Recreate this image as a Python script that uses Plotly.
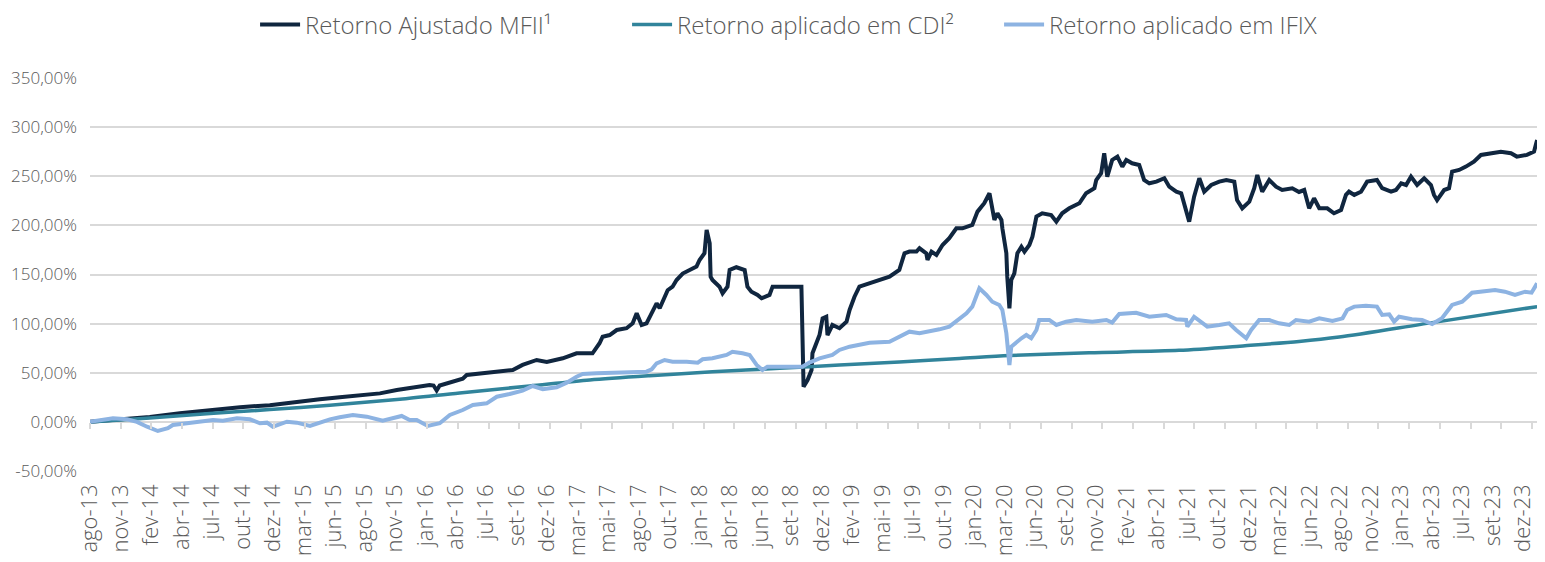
import plotly.graph_objects as go

# x positions are expressed in "label periods": 0 = ago-13, 47 = dez-23
tick_labels = ["ago-13", "nov-13", "fev-14", "abr-14", "jul-14", "out-14", "dez-14", "mar-15",
               "jun-15", "ago-15", "nov-15", "jan-16", "abr-16", "jul-16", "set-16", "dez-16",
               "mar-17", "mai-17", "ago-17", "out-17", "jan-18", "abr-18", "jun-18", "set-18",
               "dez-18", "fev-19", "mai-19", "jul-19", "out-19", "jan-20", "mar-20", "jun-20",
               "set-20", "nov-20", "fev-21", "abr-21", "jul-21", "out-21", "dez-21", "mar-22",
               "jun-22", "ago-22", "nov-22", "jan-23", "abr-23", "jul-23", "set-23", "dez-23"]

mfii_t = [0.00, 0.98, 1.95, 2.93, 3.91, 4.89, 5.86, 6.84, 7.49, 8.14, 9.45, 10.00, 11.07, 11.20, 11.30,
          11.40, 12.15, 12.28, 13.26, 13.78, 14.10, 14.56, 14.89, 15.41, 15.86, 16.38, 16.61, 16.71,
          16.94, 17.17, 17.49, 17.69, 17.82, 17.98, 18.14, 18.47, 18.57, 18.83, 18.99, 19.12, 19.32,
          19.54, 19.77, 19.87, 20.03, 20.10, 20.20, 20.23, 20.29, 20.52, 20.62, 20.78, 20.85, 21.07,
          21.34, 21.43, 21.56, 21.76, 21.89, 22.15, 22.25, 23.19, 23.22, 23.24, 23.26, 23.39, 23.52,
          23.55, 23.68, 23.78, 23.88, 24.00, 24.04, 24.20, 24.43, 24.66, 24.76, 24.92, 25.08, 25.41,
          25.73, 26.06, 26.38, 26.55, 26.71, 26.94, 27.04, 27.26, 27.30, 27.43, 27.59, 27.79, 28.01,
          28.24, 28.44, 28.76, 28.93, 29.15, 29.32, 29.38, 29.48, 29.58, 29.71, 29.74, 29.87, 29.90,
          29.97, 30.03, 30.13, 30.23, 30.36, 30.46, 30.62, 30.72, 30.85, 31.04, 31.33, 31.50, 31.69,
          31.92, 32.25, 32.47, 32.74, 32.80, 32.96, 33.06, 33.16, 33.32, 33.49, 33.65, 33.78, 33.97,
          34.20, 34.36, 34.53, 34.76, 35.02, 35.18, 35.41, 35.57, 35.73, 35.83, 35.99, 36.16, 36.32,
          36.55, 36.81, 37.04, 37.30, 37.39, 37.56, 37.79, 37.95, 38.05, 38.21, 38.44, 38.66, 38.86,
          39.19, 39.41, 39.58, 39.74, 39.90, 40.07, 40.33, 40.55, 40.78, 40.94, 41.04, 41.21, 41.43,
          41.63, 41.95, 42.12, 42.41, 42.57, 42.74, 42.90, 43.06, 43.26, 43.49, 43.71, 43.81, 43.91,
          44.14, 44.30, 44.40, 44.63, 44.85, 45.11, 45.34, 45.67, 45.99, 46.32, 46.51, 46.84, 47.07,
          47.17]
mfii_v = [0.0, 2.0, 5.0, 8.7, 12.0, 15.0, 17.0, 21.0, 23.0, 25.0, 29.0, 32.5, 37.5, 37.0, 32.0,
          37.0, 44.0, 47.7, 51.0, 52.8, 58.0, 63.0, 61.0, 64.7, 69.8, 69.8, 80.0, 86.7,
          88.4, 93.5, 95.3, 100.3, 110.5, 98.6, 100.3, 120.7, 115.6, 134.0, 137.6, 144.4, 151.0,
          154.6, 158.0, 164.8, 171.6, 195.3, 181.8, 147.8, 144.4, 137.6, 130.9, 137.6, 154.6, 157.4,
          154.6, 137.6, 132.5, 129.2, 125.8, 129.2, 137.6, 137.6, 103.7, 56.0, 35.8, 42.6, 52.8,
          69.8, 80.0, 88.4, 105.4, 107.0, 88.4, 98.6, 95.3, 102.0, 113.9, 127.4, 137.6, 141.0,
          144.4, 147.8, 154.6, 171.6, 173.3, 173.3, 176.7, 171.6, 164.8, 173.3, 169.9, 180.0, 186.9,
          197.0, 197.0, 200.4, 214.0, 222.5, 232.7, 222.5, 205.5, 212.3, 205.5, 197.0, 171.6, 147.8,
          115.6, 144.4, 151.2, 171.6, 178.3, 173.3, 180.0, 188.5, 208.9, 212.3, 210.6, 203.8, 212.3,
          217.4, 222.5, 232.7, 237.8, 246.2, 253.0, 273.4, 249.6, 266.6, 270.0, 259.8, 266.6, 263.2,
          261.5, 246.2, 242.8, 244.5, 248.0, 239.4, 234.3, 232.7, 215.7, 203.8, 229.2, 248.0, 234.3,
          241.1, 244.5, 246.2, 244.5, 225.8, 217.4, 224.1, 237.8, 251.3, 234.3, 246.2, 239.4, 236.0,
          237.8, 234.0, 236.0, 217.4, 227.6, 217.4, 217.4, 212.3, 215.7, 231.0, 234.3, 231.0, 234.3,
          244.5, 246.2, 237.8, 234.3, 236.0, 242.8, 241.1, 249.6, 241.1, 248.0, 241.1, 231.0, 225.8,
          236.0, 237.8, 254.7, 256.4, 259.8, 264.9, 271.7, 273.4, 275.0, 273.4, 270.0, 271.7, 275.0,
          286.9]

cdi_t = [0.00, 1.95, 3.91, 5.86, 7.82, 10.10, 12.05, 14.33, 16.29, 18.24, 20.29, 22.48, 24.43,
         26.38, 28.34, 29.97, 32.57, 35.50, 37.65, 39.41, 40.72, 43.75, 47.17]
cdi_v = [0.0, 4.0, 8.5, 12.5, 17.0, 23.0, 29.5, 36.5, 42.6, 47.0, 51.0, 54.5, 58.0,
         61.0, 64.5, 67.5, 70.4, 72.8, 77.5, 81.8, 86.3, 101.0, 117.3]

ifix_t = [0.00, 0.33, 0.75, 1.21, 1.53, 1.86, 2.21, 2.54, 2.70, 3.16, 4.01, 4.33, 4.79, 5.21, 5.54,
          5.77, 5.96, 6.42, 6.74, 7.17, 7.49, 7.82, 8.14, 8.57, 9.02, 9.54, 10.16, 10.42, 10.65,
          11.01, 11.40, 11.73, 12.15, 12.48, 12.93, 13.26, 13.68, 14.10, 14.43, 14.76, 15.21, 15.54,
          15.86, 16.06, 16.51, 16.94, 17.59, 18.14, 18.31, 18.47, 18.73, 18.99, 19.45, 19.81, 19.97,
          20.29, 20.75, 20.94, 21.27, 21.50, 21.73, 21.92, 22.08, 22.48, 23.03, 23.22, 23.45, 23.78,
          24.20, 24.43, 24.76, 25.41, 26.06, 26.38, 26.71, 27.04, 27.36, 27.69, 28.01, 28.24, 28.57,
          28.76, 28.99, 29.22, 29.41, 29.64, 29.74, 29.87, 29.97, 30.03, 30.20, 30.36, 30.52, 30.68,
          30.85, 30.94, 31.27, 31.50, 31.82, 32.15, 32.67, 33.13, 33.32, 33.55, 34.10, 34.53, 35.08,
          35.41, 35.73, 35.77, 35.99, 36.42, 36.81, 37.13, 37.36, 37.69, 37.85, 38.11, 38.44, 38.76,
          39.09, 39.31, 39.74, 40.07, 40.50, 40.83, 40.98, 41.21, 41.59, 41.95, 42.12, 42.35, 42.51,
          42.67, 43.09, 43.42, 43.75, 44.07, 44.40, 44.73, 45.05, 45.37, 45.80, 46.12, 46.45, 46.78,
          46.99, 47.17]
ifix_v = [0.0, 2.0, 3.7, 2.6, 0.0, -4.9, -9.3, -6.5, -3.2, -1.4, 1.9, 1.2, 3.7, 2.6, -1.4,
          -0.8, -4.9, 0.2, -0.8, -4.2, -0.8, 2.6, 4.7, 7.0, 5.3, 1.2, 6.0, 1.9, 1.9,
          -4.2, -1.4, 7.0, 12.1, 17.2, 18.9, 25.6, 28.4, 31.8, 36.5, 33.2, 35.2, 39.9,
          46.0, 48.8, 49.5, 50.1, 51.1, 51.1, 53.5, 59.6, 63.0, 61.3, 61.3, 60.3, 63.7,
          64.7, 68.1, 71.4, 69.8, 68.1, 57.9, 52.8, 56.2, 56.2, 55.2, 56.2, 60.3, 64.7,
          68.1, 73.2, 76.5, 80.6, 81.6, 86.7, 91.8, 90.2, 91.8, 94.2, 96.9, 102.0, 110.5,
          117.3, 136.0, 129.2, 122.3, 119.0, 113.9, 90.2, 57.9, 76.5, 81.6, 85.1, 88.4, 85.1,
          93.5, 103.7, 103.7, 98.6, 102.0, 103.7, 102.0, 103.7, 101.0, 109.8, 111.1, 107.0, 108.8,
          104.4, 103.7, 96.9, 107.0, 96.9, 98.6, 100.3, 93.5, 85.1, 93.5, 103.7, 103.7, 100.3,
          98.6, 103.7, 102.0, 105.4, 102.7, 105.4, 113.9, 117.3, 118.3, 117.3, 108.8, 109.5, 102.0,
          107.0, 104.4, 103.7, 99.6, 105.4, 119.0, 122.3, 131.5, 132.5, 134.2, 132.5, 129.2, 132.5,
          131.5, 141.0]

y_ticks = [-50, 0, 50, 100, 150, 200, 250, 300, 350]
y_tick_text = ["-50,00%", "0,00%", "50,00%", "100,00%", "150,00%", "200,00%", "250,00%", "300,00%", "350,00%"]

FONT = "Open Sans"
GRAY = "#595959"
GRID = "#d9d9d9"
x_range = [0, 47.2]
tick_pos = list(range(len(tick_labels)))
# Excel-style label placement: labels drift slightly left of their tick marks
label_pos = [i * 0.9938 for i in tick_pos]

fig = go.Figure()
fig.add_trace(go.Scatter(x=mfii_t, y=mfii_v, mode="lines", name="Retorno Ajustado MFII¹",
                         line=dict(color="#10263f", width=4)))
fig.add_trace(go.Scatter(x=cdi_t, y=cdi_v, mode="lines", name="Retorno aplicado em CDI²",
                         line=dict(color="#31849b", width=3.5, shape="spline", smoothing=0.8)))
fig.add_trace(go.Scatter(x=ifix_t, y=ifix_v, mode="lines", name="Retorno aplicado em IFIX",
                         line=dict(color="#8db3e2", width=4)))
# carrier for the tick-mark axis at the 0% line
fig.add_trace(go.Scatter(x=cdi_t, y=cdi_v, xaxis="x2", mode="lines", showlegend=False,
                         hoverinfo="skip", line=dict(color="rgba(0,0,0,0)", width=0)))

# the page body adds an 8px offset, so the figure is sized to fit inside the window
fig.update_layout(
    width=1537, height=554,
    margin=dict(l=82, r=7, t=70, b=91, autoexpand=False),
    paper_bgcolor="white", plot_bgcolor="white",
    font=dict(family=FONT, color=GRAY),
    showlegend=True,
    legend=dict(orientation="h", x=0.114, xanchor="left", y=1.135, yanchor="middle",
                font=dict(size=24, color=GRAY, family=FONT, weight=300),
                entrywidth=317, entrywidthmode="pixels", itemwidth=40, traceorder="normal"),
    xaxis=dict(range=x_range, tickmode="array", tickvals=label_pos,
               ticktext=tick_labels, tickangle=-90, ticks="", showgrid=False, zeroline=False,
               showline=False, automargin=False, ticklabeloverflow="allow",
               tickfont=dict(size=22, color=GRAY, family=FONT, weight=300),
               ticklabelstandoff=8),
    xaxis2=dict(range=x_range, overlaying="x", anchor="free", position=0.125, side="bottom",
                tickmode="array", tickvals=tick_pos, showticklabels=False,
                ticks="outside", ticklen=6, tickwidth=1.5, tickcolor=GRID, showgrid=False,
                zeroline=False, showline=False, automargin=False),
    yaxis=dict(range=[-50, 350], tickmode="array", tickvals=y_ticks, ticktext=y_tick_text,
               showgrid=True, gridcolor=GRID, gridwidth=1.5, zeroline=False, showline=False,
               automargin=False,
               tickfont=dict(size=17, color=GRAY, family=FONT, weight=300), ticks="",
               ticklabelstandoff=12),
)

fig.write_html("out.html")
